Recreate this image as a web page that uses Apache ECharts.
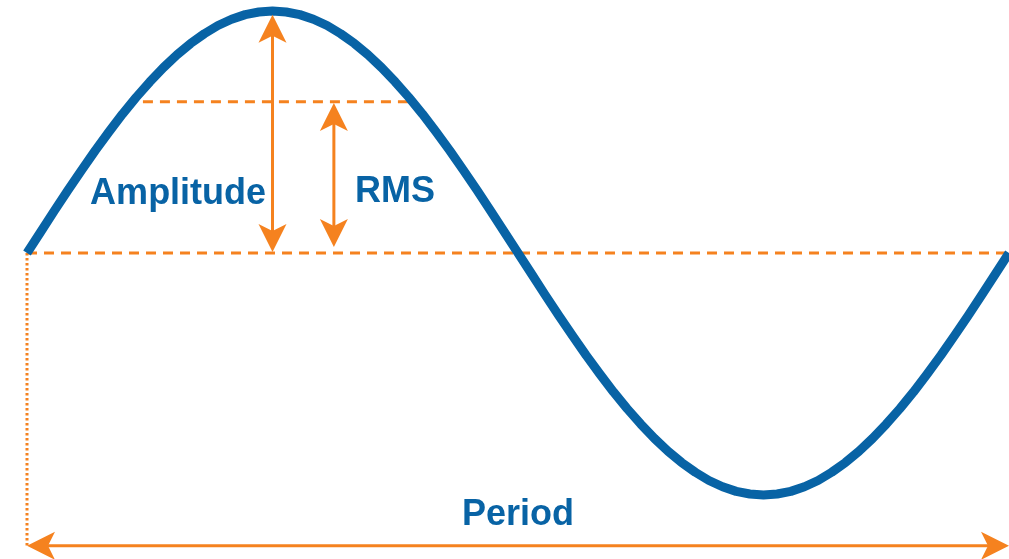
<!DOCTYPE html>
<html>
<head>
<meta charset="utf-8">
<script src="https://cdn.jsdelivr.net/npm/echarts@6/dist/echarts.min.js"></script>
<style>
  html, body { margin: 0; padding: 0; background: #ffffff; }
  #chart { width: 1009px; height: 559px; }
</style>
</head>
<body>
<div id="chart"></div>
<script>
// ---- Data ----
// Phase of the wave in degrees (one full period, every 5 degrees)
var wavePhase = [0, 5, 10, 15, 20, 25, 30, 35, 40, 45, 50, 55, 60, 65, 70, 75, 80, 85, 90,
                 95, 100, 105, 110, 115, 120, 125, 130, 135, 140, 145, 150, 155, 160, 165, 170, 175, 180,
                 185, 190, 195, 200, 205, 210, 215, 220, 225, 230, 235, 240, 245, 250, 255, 260, 265, 270,
                 275, 280, 285, 290, 295, 300, 305, 310, 315, 320, 325, 330, 335, 340, 345, 350, 355, 360];
// Signal value (relative to amplitude = 1)
var waveValues = [0, 0.087, 0.174, 0.259, 0.342, 0.423, 0.500, 0.574, 0.643, 0.707, 0.766, 0.819, 0.866, 0.906, 0.940, 0.966, 0.985, 0.996, 1.000,
                  0.996, 0.985, 0.966, 0.940, 0.906, 0.866, 0.819, 0.766, 0.707, 0.643, 0.574, 0.500, 0.423, 0.342, 0.259, 0.174, 0.087, 0,
                  -0.087, -0.174, -0.259, -0.342, -0.423, -0.500, -0.574, -0.643, -0.707, -0.766, -0.819, -0.866, -0.906, -0.940, -0.966, -0.985, -0.996, -1.000,
                  -0.996, -0.985, -0.966, -0.940, -0.906, -0.866, -0.819, -0.766, -0.707, -0.643, -0.574, -0.500, -0.423, -0.342, -0.259, -0.174, -0.087, 0];

// Reference levels
var zeroLevel = [[0, 0], [360, 0]];
var rmsLevel = [[42.5, 0.625], [140.5, 0.625]];
var periodStartMarker = [[0, 0], [0, -1.21]];

// Double-headed arrows: [x1, y1, x2, y2]
var arrowAmplitude = [90, 0.985, 90, 0.004];
var arrowRms = [112.5, 0.62, 112.5, 0.025];
var arrowPeriod = [0, -1.21, 360, -1.21];

// Labels
var labelTexts = ['Amplitude', 'RMS', 'Period'];
var labelPositions = [[55.4, 0.245], [134.9, 0.25], [180, -1.085]];

// ---- Chart ----
var BLUE = '#0863a5';
var ORANGE = '#f5821f';

var waveData = wavePhase.map(function (p, i) { return [p, waveValues[i]]; });
var labelData = labelPositions.map(function (p, i) { return { value: p, name: labelTexts[i] }; });

function renderArrow(params, api) {
  var p1 = api.coord([api.value(0), api.value(1)]);
  var p2 = api.coord([api.value(2), api.value(3)]);
  var dx = p2[0] - p1[0], dy = p2[1] - p1[1];
  var len = Math.sqrt(dx * dx + dy * dy);
  var ux = dx / len, uy = dy / len;
  var L = 28, hw = 14;
  function head(tip, bx, by) {
    var back = [tip[0] + bx * L, tip[1] + by * L];
    var px = -by, py = bx;
    return [
      tip,
      [back[0] + px * hw, back[1] + py * hw],
      [tip[0] + bx * L * 0.75, tip[1] + by * L * 0.75],
      [back[0] - px * hw, back[1] - py * hw]
    ];
  }
  return {
    type: 'group',
    children: [
      { type: 'line', shape: { x1: p1[0] + ux * 10, y1: p1[1] + uy * 10, x2: p2[0] - ux * 10, y2: p2[1] - uy * 10 },
        style: { stroke: ORANGE, lineWidth: 3 } },
      { type: 'polygon', shape: { points: head(p1, ux, uy) }, style: { fill: ORANGE } },
      { type: 'polygon', shape: { points: head(p2, -ux, -uy) }, style: { fill: ORANGE } }
    ]
  };
}

var chart = echarts.init(document.getElementById('chart'));
chart.setOption({
  animation: false,
  backgroundColor: '#ffffff',
  grid: { left: 27, right: 0, top: 0, bottom: 0 },
  xAxis: { type: 'value', min: 0, max: 360, show: false },
  yAxis: { type: 'value', min: -306 / 242, max: 253 / 242, show: false },
  series: [
    {
      type: 'line', data: zeroLevel, symbol: 'none', clip: false, silent: true, z: 1,
      lineStyle: { color: ORANGE, width: 3, type: [10, 7] }
    },
    {
      type: 'line', data: rmsLevel, symbol: 'none', clip: false, silent: true, z: 1,
      lineStyle: { color: ORANGE, width: 3, type: [10, 7] }
    },
    {
      type: 'line', data: periodStartMarker, symbol: 'none', clip: false, silent: true, z: 1,
      lineStyle: { color: ORANGE, width: 3, type: [2.5, 2.5] }
    },
    {
      type: 'line', data: waveData, symbol: 'none', smooth: false, clip: false, silent: true, z: 2,
      lineStyle: { color: BLUE, width: 9, cap: 'butt', join: 'round' }
    },
    {
      type: 'custom', data: [arrowAmplitude, arrowRms, arrowPeriod], renderItem: renderArrow,
      clip: false, silent: true, z: 3,
      encode: { x: [0, 2], y: [1, 3] }
    },
    {
      type: 'scatter', data: labelData, symbolSize: 0, silent: true, z: 4,
      itemStyle: { opacity: 1 },
      label: {
        show: true, position: 'inside', formatter: function (p) { return p.name; },
        color: BLUE, fontSize: 36, fontWeight: 'bold', opacity: 1,
        fontFamily: '"Liberation Sans", Arial, Helvetica, sans-serif'
      }
    }
  ]
});
</script>
</body>
</html>
